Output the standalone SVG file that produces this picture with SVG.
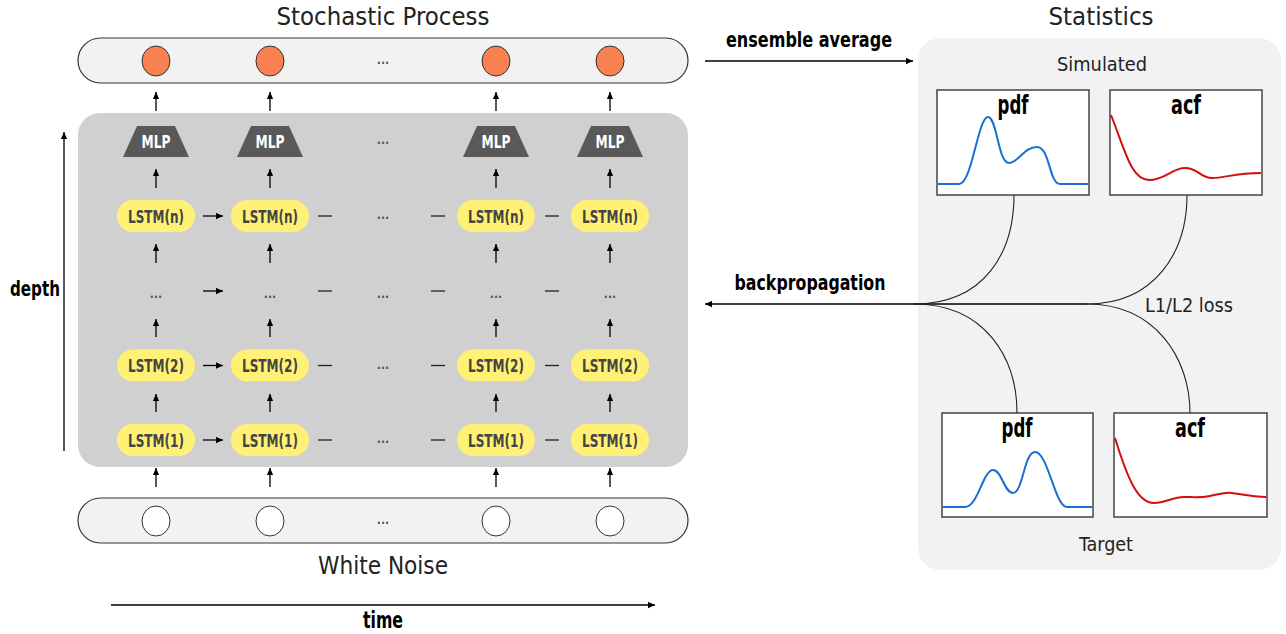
<svg xmlns="http://www.w3.org/2000/svg" width="1286" height="634" viewBox="0 0 1286 634">
<defs>
<marker id="ah" viewBox="0 0 10 10" refX="10" refY="5" markerWidth="7" markerHeight="7" markerUnits="userSpaceOnUse" orient="auto-start-reverse"><path d="M0,0.5 L10,5 L0,9.5 z" fill="#000"/></marker>
<style>
text{font-family:'Liberation Sans Narrow','DejaVu Sans Condensed','Liberation Sans',sans-serif;text-anchor:middle;fill:#222}
.b{font-weight:bold;fill:#000}
.lbl{font-weight:bold;font-size:18.5px;fill:#444}
.mlp{font-weight:bold;font-size:18px;fill:#fff}
.dots{font-weight:bold;font-size:12px;fill:#555}
.bar{fill:#f2f2f2;stroke:#333;stroke-width:1.2}
.pill{fill:#fff176}
.trap{fill:#595959}
.oc{fill:#f98050;stroke:#333;stroke-width:1}
.wc{fill:#fff;stroke:#333;stroke-width:1}
.arr{stroke:#000;stroke-width:1.3;fill:none;marker-end:url(#ah)}
.dash{stroke:#222;stroke-width:1.3}
.cur{stroke:#222;stroke-width:1.1;fill:none}
.chart{fill:#fff;stroke:#444;stroke-width:1.5}
.blue{fill:none;stroke:#1a6fd6;stroke-width:2}
.red{fill:none;stroke:#d40d0d;stroke-width:2}
</style>
</defs>
<rect width="1286" height="634" fill="#fff"/>

<g id="titles">
<text x="383" y="25" font-size="25" textLength="213" lengthAdjust="spacingAndGlyphs">Stochastic Process</text>
<text x="383" y="574" font-size="25" textLength="130" lengthAdjust="spacingAndGlyphs">White Noise</text>
<text x="1101" y="25" font-size="25" textLength="105" lengthAdjust="spacingAndGlyphs">Statistics</text>
</g>

<g id="stochastic-process">
<rect class="bar" x="78" y="38" width="610" height="45" rx="22.5"/>
<ellipse class="oc" cx="156" cy="61" rx="14" ry="15"/>
<ellipse class="oc" cx="270" cy="61" rx="14" ry="15"/>
<text class="dots" x="383" y="64">...</text>
<ellipse class="oc" cx="496" cy="61" rx="14" ry="15"/>
<ellipse class="oc" cx="610" cy="61" rx="14" ry="15"/>
</g>

<g id="white-noise">
<rect class="bar" x="78" y="498" width="610" height="45" rx="22.5"/>
<ellipse class="wc" cx="156" cy="521" rx="14" ry="15"/>
<ellipse class="wc" cx="270" cy="521" rx="14" ry="15"/>
<text class="dots" x="383" y="524">...</text>
<ellipse class="wc" cx="496" cy="521" rx="14" ry="15"/>
<ellipse class="wc" cx="610" cy="521" rx="14" ry="15"/>
</g>

<g id="network">
<rect x="78" y="113" width="610" height="354" rx="22" fill="#d0d0d0"/>
</g>

<g id="mlp-row">
<path class="trap" d="M137,126 H175 L189,157 H123 Z"/>
<path class="trap" d="M251,126 H289 L303,157 H237 Z"/>
<path class="trap" d="M477,126 H515 L529,157 H463 Z"/>
<path class="trap" d="M591,126 H629 L643,157 H577 Z"/>
<text class="mlp" x="156" y="148" textLength="29" lengthAdjust="spacingAndGlyphs">MLP</text>
<text class="mlp" x="270" y="148" textLength="29" lengthAdjust="spacingAndGlyphs">MLP</text>
<text class="dots" x="383" y="144">...</text>
<text class="mlp" x="496" y="148" textLength="29" lengthAdjust="spacingAndGlyphs">MLP</text>
<text class="mlp" x="610" y="148" textLength="29" lengthAdjust="spacingAndGlyphs">MLP</text>
</g>

<g id="lstm-n">
<rect class="pill" x="117" y="200" width="78" height="32" rx="16"/>
<rect class="pill" x="231" y="200" width="78" height="32" rx="16"/>
<rect class="pill" x="457" y="200" width="78" height="32" rx="16"/>
<rect class="pill" x="571" y="200" width="78" height="32" rx="16"/>
<text class="lbl" x="156" y="222.5" textLength="56" lengthAdjust="spacingAndGlyphs">LSTM(n)</text>
<text class="lbl" x="270" y="222.5" textLength="56" lengthAdjust="spacingAndGlyphs">LSTM(n)</text>
<text class="dots" x="383" y="219">...</text>
<text class="lbl" x="496" y="222.5" textLength="56" lengthAdjust="spacingAndGlyphs">LSTM(n)</text>
<text class="lbl" x="610" y="222.5" textLength="56" lengthAdjust="spacingAndGlyphs">LSTM(n)</text>
</g>

<g id="lstm-dots">
<text class="dots" x="156" y="298">...</text>
<text class="dots" x="270" y="298">...</text>
<text class="dots" x="383" y="298">...</text>
<text class="dots" x="496" y="298">...</text>
<text class="dots" x="610" y="298">...</text>
</g>

<g id="lstm-2">
<rect class="pill" x="117" y="349.5" width="78" height="32" rx="16"/>
<rect class="pill" x="231" y="349.5" width="78" height="32" rx="16"/>
<rect class="pill" x="457" y="349.5" width="78" height="32" rx="16"/>
<rect class="pill" x="571" y="349.5" width="78" height="32" rx="16"/>
<text class="lbl" x="156" y="372" textLength="56" lengthAdjust="spacingAndGlyphs">LSTM(2)</text>
<text class="lbl" x="270" y="372" textLength="56" lengthAdjust="spacingAndGlyphs">LSTM(2)</text>
<text class="dots" x="383" y="368.5">...</text>
<text class="lbl" x="496" y="372" textLength="56" lengthAdjust="spacingAndGlyphs">LSTM(2)</text>
<text class="lbl" x="610" y="372" textLength="56" lengthAdjust="spacingAndGlyphs">LSTM(2)</text>
</g>

<g id="lstm-1">
<rect class="pill" x="117" y="424" width="78" height="32" rx="16"/>
<rect class="pill" x="231" y="424" width="78" height="32" rx="16"/>
<rect class="pill" x="457" y="424" width="78" height="32" rx="16"/>
<rect class="pill" x="571" y="424" width="78" height="32" rx="16"/>
<text class="lbl" x="156" y="446.5" textLength="56" lengthAdjust="spacingAndGlyphs">LSTM(1)</text>
<text class="lbl" x="270" y="446.5" textLength="56" lengthAdjust="spacingAndGlyphs">LSTM(1)</text>
<text class="dots" x="383" y="443">...</text>
<text class="lbl" x="496" y="446.5" textLength="56" lengthAdjust="spacingAndGlyphs">LSTM(1)</text>
<text class="lbl" x="610" y="446.5" textLength="56" lengthAdjust="spacingAndGlyphs">LSTM(1)</text>
</g>

<g id="statistics">
<rect x="918" y="38" width="363" height="532" rx="22" fill="#f2f2f2"/>
<text x="1102" y="71" font-size="20" textLength="90" lengthAdjust="spacingAndGlyphs">Simulated</text>
<text x="1106" y="551" font-size="19" textLength="54" lengthAdjust="spacingAndGlyphs">Target</text>
<text x="1189" y="312" font-size="20" textLength="88" lengthAdjust="spacingAndGlyphs">L1/L2 loss</text>
</g>

<g id="sim-pdf">
<rect class="chart" x="937" y="90" width="152" height="105"/>
<path class="blue" d="M938,184 H959 C972,184 978,117 988,117 C997,117 998,163 1009,163 C1018,163 1024,147 1037,147 C1050,147 1049,184 1060,184 H1088"/>
<text class="b" x="1013" y="114" font-size="26" textLength="31" lengthAdjust="spacingAndGlyphs">pdf</text>
</g>
<g id="sim-acf">
<rect class="chart" x="1110" y="90" width="152" height="105"/>
<path class="red" d="M1111,115 C1125,150 1131,180 1149,180 C1165,180 1172,168 1185,168 C1198,168 1200,178 1212,178 C1225,178 1235,173 1261,173"/>
<text class="b" x="1186" y="114" font-size="26" textLength="30" lengthAdjust="spacingAndGlyphs">acf</text>
</g>
<g id="target-pdf">
<rect class="chart" x="942" y="413" width="151" height="104"/>
<path class="blue" d="M943,507 H965 C978,507 983,470 993,470 C1002,470 1004,493 1013,493 C1023,493 1024,452 1035,452 C1048,452 1055,507 1067,507 H1092"/>
<text class="b" x="1017" y="437" font-size="26" textLength="31" lengthAdjust="spacingAndGlyphs">pdf</text>
</g>
<g id="target-acf">
<rect class="chart" x="1114" y="413" width="153" height="104"/>
<path class="red" d="M1115,438 C1128,480 1138,503 1154,503 C1166,503 1172,497 1184,497 C1192,497 1200,498 1210,496 C1220,494 1225,492 1232,493 C1245,495 1255,497 1266,497"/>
<text class="b" x="1190" y="437" font-size="26" textLength="30" lengthAdjust="spacingAndGlyphs">acf</text>
</g>

<g id="axis-labels">
<text class="b" x="809" y="47" font-size="22" textLength="166" lengthAdjust="spacingAndGlyphs">ensemble average</text>
<text class="b" x="810" y="290" font-size="22" textLength="151" lengthAdjust="spacingAndGlyphs">backpropagation</text>
<text class="b" x="383" y="628" font-size="23" textLength="40" lengthAdjust="spacingAndGlyphs">time</text>
<text class="b" x="35" y="296" font-size="22" textLength="50" lengthAdjust="spacingAndGlyphs">depth</text>
</g>

<g id="connectors">
<line class="arr" x1="156" y1="111" x2="156" y2="92"/>
<line class="arr" x1="270" y1="111" x2="270" y2="92"/>
<line class="arr" x1="496" y1="111" x2="496" y2="92"/>
<line class="arr" x1="610" y1="111" x2="610" y2="92"/>
<line class="arr" x1="156" y1="188" x2="156" y2="169"/>
<line class="arr" x1="270" y1="188" x2="270" y2="169"/>
<line class="arr" x1="496" y1="188" x2="496" y2="169"/>
<line class="arr" x1="610" y1="188" x2="610" y2="169"/>
<line class="arr" x1="156" y1="263" x2="156" y2="244"/>
<line class="arr" x1="270" y1="263" x2="270" y2="244"/>
<line class="arr" x1="496" y1="263" x2="496" y2="244"/>
<line class="arr" x1="610" y1="263" x2="610" y2="244"/>
<line class="arr" x1="156" y1="337" x2="156" y2="319"/>
<line class="arr" x1="270" y1="337" x2="270" y2="319"/>
<line class="arr" x1="496" y1="337" x2="496" y2="319"/>
<line class="arr" x1="610" y1="337" x2="610" y2="319"/>
<line class="arr" x1="156" y1="412" x2="156" y2="394"/>
<line class="arr" x1="270" y1="412" x2="270" y2="394"/>
<line class="arr" x1="496" y1="412" x2="496" y2="394"/>
<line class="arr" x1="610" y1="412" x2="610" y2="394"/>
<line class="arr" x1="156" y1="487" x2="156" y2="468"/>
<line class="arr" x1="270" y1="487" x2="270" y2="468"/>
<line class="arr" x1="496" y1="487" x2="496" y2="468"/>
<line class="arr" x1="610" y1="487" x2="610" y2="468"/>
<line class="arr" x1="203" y1="216" x2="223" y2="216"/>
<line class="arr" x1="203" y1="291" x2="223" y2="291"/>
<line class="arr" x1="203" y1="365.5" x2="223" y2="365.5"/>
<line class="arr" x1="203" y1="440" x2="223" y2="440"/>
<g class="dash">
<line x1="318" y1="216" x2="332" y2="216"/><line x1="431" y1="216" x2="445" y2="216"/><line x1="545" y1="216" x2="559" y2="216"/>
<line x1="318" y1="291" x2="332" y2="291"/><line x1="431" y1="291" x2="445" y2="291"/><line x1="545" y1="291" x2="559" y2="291"/>
<line x1="318" y1="365.5" x2="332" y2="365.5"/><line x1="431" y1="365.5" x2="445" y2="365.5"/><line x1="545" y1="365.5" x2="559" y2="365.5"/>
<line x1="318" y1="440" x2="332" y2="440"/><line x1="431" y1="440" x2="445" y2="440"/><line x1="545" y1="440" x2="559" y2="440"/>
</g>
<line class="arr" x1="64" y1="451" x2="64" y2="132"/>
<line class="arr" x1="111" y1="605" x2="655" y2="605"/>
<line class="arr" x1="705" y1="61" x2="913" y2="61"/>
<line class="arr" x1="1088" y1="304" x2="705" y2="304"/>
<path class="cur" d="M1014,195 C1014,252 985,304 914,304"/>
<path class="cur" d="M1187,195 C1187,252 1155,304 1087,304"/>
<path class="cur" d="M914,304 C985,304 1017,358 1017,413"/>
<path class="cur" d="M1087,304 C1155,304 1190,358 1190,413"/>
</g>
</svg>
